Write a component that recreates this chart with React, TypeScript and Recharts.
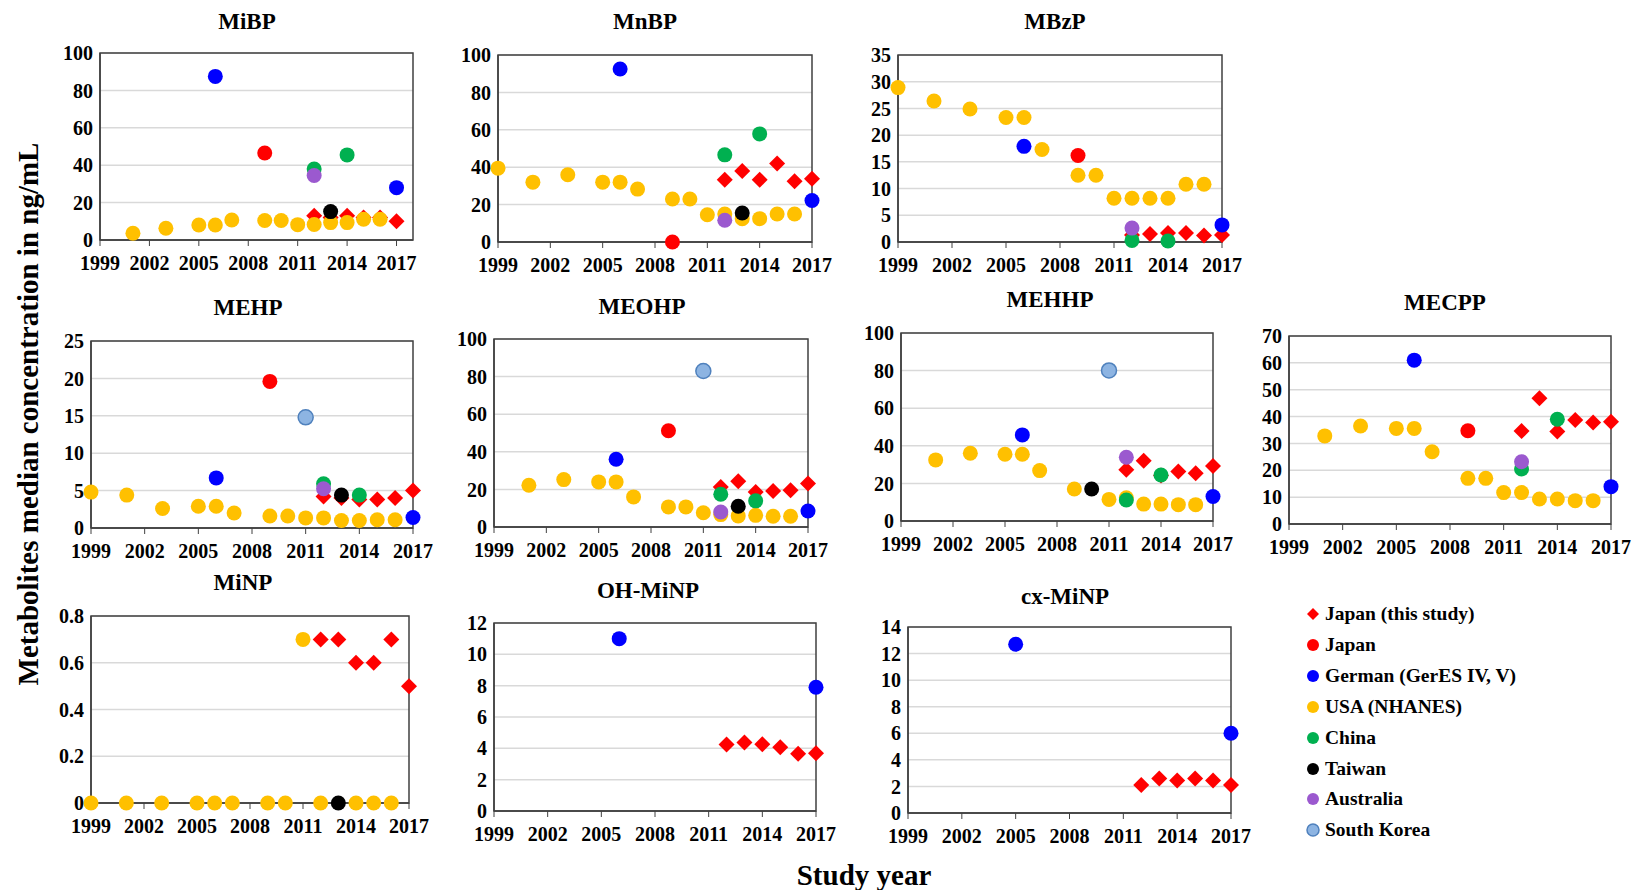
import { ScatterChart, Scatter, XAxis, YAxis, CartesianGrid, ReferenceArea } from "recharts";

type Pt = [number, number];
type PanelData = Record<string, Pt[]>;

const yearTicks = [1999, 2002, 2005, 2008, 2011, 2014, 2017];

const seriesKeys = ["jpStudy", "japan", "german", "usa", "china", "taiwan", "australia", "korea"];
const seriesNames = [
  "Japan (this study)",
  "Japan",
  "German (GerES IV, V)",
  "USA (NHANES)",
  "China",
  "Taiwan",
  "Australia",
  "South Korea",
];
const seriesFill = ["#FF0000", "#FF0000", "#0000FF", "#FFC000", "#00B050", "#000000", "#9B59CF", "#8DB4E2"];
const seriesStroke = ["none", "none", "none", "none", "none", "none", "none", "#4F81BD"];

const mibp: PanelData = {
  jpStudy: [[2012, 13], [2013, 12], [2014, 13], [2015, 12], [2016, 12], [2017, 10]],
  japan: [[2009, 46.5]],
  german: [[2006, 87.5], [2017, 28]],
  usa: [[2001, 3.6], [2003, 6.3], [2005, 8], [2006, 8], [2007, 10.7], [2009, 10.4], [2010, 10.4], [2011, 8.2], [2012, 8.3], [2013, 9.3], [2014, 9.3], [2015, 11.1], [2016, 11.1]],
  china: [[2012, 38], [2014, 45.5]],
  taiwan: [[2013, 15.2]],
  australia: [[2012, 34.5]],
};

const mnbp: PanelData = {
  jpStudy: [[2012, 33.3], [2013, 38], [2014, 33.3], [2015, 42], [2016, 32.5], [2017, 33.8]],
  japan: [[2009, 0]],
  german: [[2006, 92.5], [2017, 22.2]],
  usa: [[1999, 39.5], [2001, 32], [2003, 36], [2005, 32], [2006, 32], [2007, 28.3], [2009, 23], [2010, 23], [2011, 14.6], [2012, 15], [2013, 12.5], [2014, 12.5], [2015, 15], [2016, 15]],
  china: [[2012, 46.6], [2014, 57.8]],
  taiwan: [[2013, 15.5]],
  australia: [[2012, 11.6]],
};

const mbzp: PanelData = {
  jpStudy: [[2012, 1.3], [2013, 1.5], [2014, 1.7], [2015, 1.7], [2016, 1.2], [2017, 1.3]],
  japan: [[2009, 16.2]],
  german: [[2006, 17.9], [2017, 3.2]],
  usa: [[1999, 28.9], [2001, 26.4], [2003, 24.9], [2005, 23.3], [2006, 23.3], [2007, 17.3], [2009, 12.5], [2010, 12.5], [2011, 8.2], [2012, 8.2], [2013, 8.2], [2014, 8.2], [2015, 10.8], [2016, 10.8]],
  china: [[2012, 0.3], [2014, 0.2]],
  australia: [[2012, 2.6]],
};

const mehp: PanelData = {
  jpStudy: [[2012, 4.2], [2013, 4.0], [2014, 3.8], [2015, 3.8], [2016, 4.0], [2017, 5.0]],
  japan: [[2009, 19.6]],
  german: [[2006, 6.7], [2017, 1.4]],
  usa: [[1999, 4.8], [2001, 4.4], [2003, 2.6], [2005, 2.9], [2006, 2.9], [2007, 2.0], [2009, 1.6], [2010, 1.6], [2011, 1.35], [2012, 1.35], [2013, 1.0], [2014, 1.0], [2015, 1.1], [2016, 1.1]],
  china: [[2012, 5.9], [2014, 4.4]],
  taiwan: [[2013, 4.4]],
  australia: [[2012, 5.25]],
  korea: [[2011, 14.8]],
};

const meohp: PanelData = {
  jpStudy: [[2012, 21.3], [2013, 24.3], [2014, 18.6], [2015, 19.2], [2016, 19.5], [2017, 23.1]],
  japan: [[2009, 51.2]],
  german: [[2006, 36], [2017, 8.5]],
  usa: [[2001, 22.2], [2003, 25.2], [2005, 24], [2006, 24], [2007, 16], [2009, 10.7], [2010, 10.7], [2011, 7.6], [2012, 6.6], [2013, 5.9], [2014, 6.2], [2015, 5.7], [2016, 5.7]],
  china: [[2012, 17.4], [2014, 13.9]],
  taiwan: [[2013, 11]],
  australia: [[2012, 8]],
  korea: [[2011, 83]],
};

const mehhp: PanelData = {
  jpStudy: [[2012, 27.2], [2013, 32.1], [2014, 24.2], [2015, 26.3], [2016, 25.4], [2017, 29.3]],
  german: [[2006, 45.8], [2017, 13]],
  usa: [[2001, 32.5], [2003, 36], [2005, 35.5], [2006, 35.5], [2007, 26.8], [2009, 17], [2011, 11.5], [2012, 12.4], [2013, 9], [2014, 9], [2015, 8.7], [2016, 8.7]],
  china: [[2012, 11.2], [2014, 24.5]],
  taiwan: [[2010, 17]],
  australia: [[2012, 33.9]],
  korea: [[2011, 80.1]],
};

const mecpp: PanelData = {
  jpStudy: [[2012, 34.6], [2013, 46.8], [2014, 34.4], [2015, 38.7], [2016, 37.8], [2017, 38.1]],
  japan: [[2009, 34.7]],
  german: [[2006, 61], [2017, 13.9]],
  usa: [[2001, 32.8], [2003, 36.5], [2005, 35.6], [2006, 35.6], [2007, 26.9], [2009, 17], [2010, 17], [2011, 11.7], [2012, 11.7], [2013, 9.3], [2014, 9.3], [2015, 8.7], [2016, 8.7]],
  china: [[2012, 20.5], [2014, 39]],
  australia: [[2012, 23.2]],
};

const minp: PanelData = {
  jpStudy: [[2012, 0.7], [2013, 0.7], [2014, 0.6], [2015, 0.6], [2016, 0.7], [2017, 0.5]],
  usa: [[1999, 0], [2001, 0], [2003, 0], [2005, 0], [2006, 0], [2007, 0], [2009, 0], [2010, 0], [2011, 0.7], [2012, 0], [2014, 0], [2015, 0], [2016, 0]],
  taiwan: [[2013, 0]],
};

const ohminp: PanelData = {
  jpStudy: [[2012, 4.25], [2013, 4.37], [2014, 4.26], [2015, 4.07], [2016, 3.65], [2017, 3.69]],
  german: [[2006, 11], [2017, 7.9]],
};

const cxminp: PanelData = {
  jpStudy: [[2012, 2.1], [2013, 2.6], [2014, 2.45], [2015, 2.6], [2016, 2.45], [2017, 2.1]],
  german: [[2005, 12.7], [2017, 6]],
};

type Panel = {
  title: string;
  data: PanelData;
  yMax: number;
  yTicks: number[];
  xMax: number;
  left: number;
  top: number;
  right: number;
  bottom: number;
  tx: number;
  ty: number;
};

const panels: Panel[] = [
  { title: "MiBP", data: mibp, yMax: 100, yTicks: [0, 20, 40, 60, 80, 100], xMax: 2018, left: 100, top: 53, right: 413, bottom: 240, tx: 247, ty: 22 },
  { title: "MnBP", data: mnbp, yMax: 100, yTicks: [0, 20, 40, 60, 80, 100], xMax: 2017, left: 498, top: 55, right: 812, bottom: 242, tx: 645, ty: 22 },
  { title: "MBzP", data: mbzp, yMax: 35, yTicks: [0, 5, 10, 15, 20, 25, 30, 35], xMax: 2017, left: 898, top: 55, right: 1222, bottom: 242, tx: 1055, ty: 22 },
  { title: "MEHP", data: mehp, yMax: 25, yTicks: [0, 5, 10, 15, 20, 25], xMax: 2017, left: 91, top: 341, right: 413, bottom: 528, tx: 248, ty: 308 },
  { title: "MEOHP", data: meohp, yMax: 100, yTicks: [0, 20, 40, 60, 80, 100], xMax: 2017, left: 494, top: 339, right: 808, bottom: 527, tx: 642, ty: 307 },
  { title: "MEHHP", data: mehhp, yMax: 100, yTicks: [0, 20, 40, 60, 80, 100], xMax: 2017, left: 901, top: 333, right: 1213, bottom: 521, tx: 1050, ty: 300 },
  { title: "MECPP", data: mecpp, yMax: 70, yTicks: [0, 10, 20, 30, 40, 50, 60, 70], xMax: 2017, left: 1289, top: 336, right: 1611, bottom: 524, tx: 1445, ty: 303 },
  { title: "MiNP", data: minp, yMax: 0.8, yTicks: [0, 0.2, 0.4, 0.6, 0.8], xMax: 2017, left: 91, top: 616, right: 409, bottom: 803, tx: 243, ty: 583 },
  { title: "OH-MiNP", data: ohminp, yMax: 12, yTicks: [0, 2, 4, 6, 8, 10, 12], xMax: 2017, left: 494, top: 623, right: 816, bottom: 811, tx: 648, ty: 591 },
  { title: "cx-MiNP", data: cxminp, yMax: 14, yTicks: [0, 2, 4, 6, 8, 10, 12, 14], xMax: 2017, left: 908, top: 627, right: 1231, bottom: 813, tx: 1065, ty: 597 },
];

const FONT = "'Liberation Serif', 'Times New Roman', serif";
const YW = 50;
const MT = 10;
const MR = 24;
const XH = 36;

function Marker({ cx, cy, i, small }: { cx: number; cy: number; i: number; small?: boolean }) {
  if (i === 0) {
    const s = small ? 6 : 8;
    return (
      <polygon
        points={`${cx},${cy - s} ${cx + s},${cy} ${cx},${cy + s} ${cx - s},${cy}`}
        fill={seriesFill[i]}
      />
    );
  }
  return (
    <circle
      cx={cx}
      cy={cy}
      r={small ? 6 : 7.5}
      fill={seriesFill[i]}
      stroke={seriesStroke[i]}
      strokeWidth={1.5}
    />
  );
}

const tickStyle = { fill: "#000", fontSize: 20, fontWeight: 700, fontFamily: FONT };

function PanelChart({ p }: { p: Panel }) {
  const w = p.right - p.left + YW + MR;
  const h = p.bottom - p.top + MT + XH;
  return (
    <>
      <div
        style={{
          position: "absolute",
          left: p.tx - 100,
          top: p.ty - 15,
          width: 200,
          textAlign: "center",
          fontFamily: FONT,
          fontWeight: "bold",
          fontSize: 23,
          lineHeight: "30px",
        }}
      >
        {p.title}
      </div>
      <div style={{ position: "absolute", left: p.left - YW, top: p.top - MT }}>
        <ScatterChart width={w} height={h} margin={{ top: MT, right: MR, left: 0, bottom: 0 }}>
          <CartesianGrid vertical={false} stroke="#d9d9d9" strokeWidth={1.5} />
          <XAxis
            type="number"
            dataKey="x"
            domain={[1999, p.xMax]}
            ticks={yearTicks}
            interval={0}
            height={XH}
            tickSize={6}
            tickMargin={10}
            tick={tickStyle}
            tickLine={{ stroke: "#404040" }}
            axisLine={{ stroke: "#404040", strokeWidth: 1.5 }}
          />
          <YAxis
            type="number"
            dataKey="y"
            domain={[0, p.yMax]}
            ticks={p.yTicks}
            interval={0}
            width={YW}
            tickSize={0}
            tickMargin={7}
            tick={tickStyle}
            tickLine={false}
            axisLine={{ stroke: "#404040", strokeWidth: 1.5 }}
          />
          <ReferenceArea
            x1={1999}
            x2={p.xMax}
            y1={0}
            y2={p.yMax}
            fill="none"
            fillOpacity={0}
            stroke="#404040"
            strokeWidth={1.5}
          />
          {seriesKeys.map((k, i) =>
            p.data[k] && p.data[k].length ? (
              <Scatter
                key={k}
                name={seriesNames[i]}
                data={p.data[k].map(([x, y]) => ({ x, y }))}
                isAnimationActive={false}
                shape={(props: any) => <Marker cx={props.cx} cy={props.cy} i={i} />}
              />
            ) : null
          )}
        </ScatterChart>
      </div>
    </>
  );
}

export default function App() {
  return (
    <div style={{ position: "absolute", left: 0, top: 0, width: 1633, height: 890, background: "#fff", overflow: "hidden" }}>
      {panels.map((p) => (
        <PanelChart key={p.title} p={p} />
      ))}

      {/* legend */}
      {seriesNames.map((n, i) => (
        <div
          key={n}
          style={{
            position: "absolute",
            left: 1304,
            top: 614 + i * 30.9 - 13,
            height: 26,
            display: "flex",
            alignItems: "center",
            fontFamily: FONT,
            fontWeight: "bold",
            fontSize: 19.5,
            whiteSpace: "nowrap",
          }}
        >
          <svg width={18} height={18} style={{ marginRight: 3 }}>
            <Marker cx={9} cy={9} i={i} small />
          </svg>
          {n}
        </div>
      ))}

      <div
        style={{
          position: "absolute",
          left: 28 - 320,
          top: 414 - 18,
          width: 640,
          height: 36,
          lineHeight: "36px",
          textAlign: "center",
          transform: "rotate(-90deg)",
          fontFamily: FONT,
          fontWeight: "bold",
          fontSize: 29,
          whiteSpace: "nowrap",
        }}
      >
        Metabolites median concentration in ng/mL
      </div>
      <div
        style={{
          position: "absolute",
          left: 864 - 150,
          top: 875 - 18,
          width: 300,
          lineHeight: "36px",
          textAlign: "center",
          fontFamily: FONT,
          fontWeight: "bold",
          fontSize: 29,
        }}
      >
        Study year
      </div>
    </div>
  );
}
